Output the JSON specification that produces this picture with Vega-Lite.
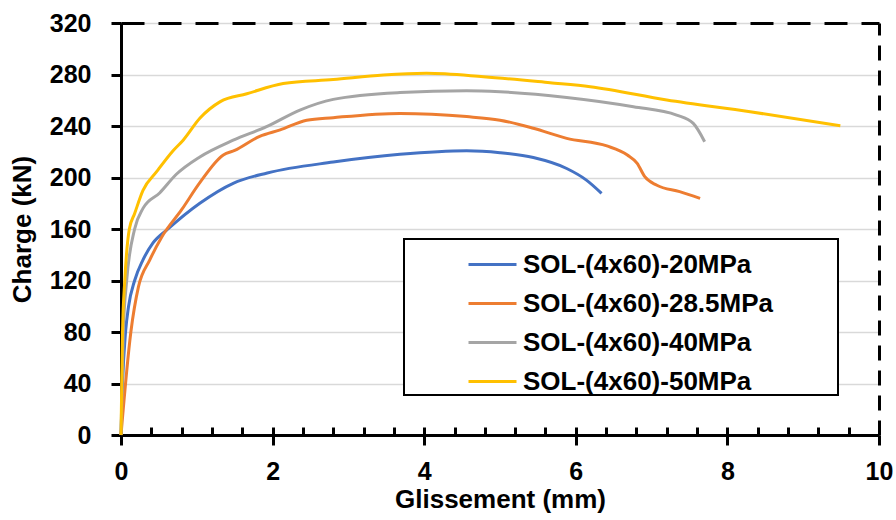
{
  "$schema": "https://vega.github.io/schema/vega-lite/v6.json",
  "width": 758,
  "height": 412,
  "autosize": {"type": "none"},
  "padding": {"left": 121, "top": 23, "right": 17, "bottom": 85},
  "background": "white",
  "config": {
    "font": "Liberation Sans",
    "view": {"stroke": null},
    "legend": {"strokeWidth": 2}
  },
  "datasets": {
    "curves": [
      {"s": "SOL-(4x60)-20MPa", "x": 0, "y": 0},
      {"s": "SOL-(4x60)-20MPa", "x": 0.02, "y": 40},
      {"s": "SOL-(4x60)-20MPa", "x": 0.06, "y": 80},
      {"s": "SOL-(4x60)-20MPa", "x": 0.1, "y": 100},
      {"s": "SOL-(4x60)-20MPa", "x": 0.18, "y": 120},
      {"s": "SOL-(4x60)-20MPa", "x": 0.29, "y": 136},
      {"s": "SOL-(4x60)-20MPa", "x": 0.42, "y": 149},
      {"s": "SOL-(4x60)-20MPa", "x": 0.62, "y": 160},
      {"s": "SOL-(4x60)-20MPa", "x": 1.04, "y": 180},
      {"s": "SOL-(4x60)-20MPa", "x": 1.48, "y": 195.5},
      {"s": "SOL-(4x60)-20MPa", "x": 1.93, "y": 203.5},
      {"s": "SOL-(4x60)-20MPa", "x": 2.8, "y": 212},
      {"s": "SOL-(4x60)-20MPa", "x": 3.68, "y": 218},
      {"s": "SOL-(4x60)-20MPa", "x": 4.56, "y": 220.8},
      {"s": "SOL-(4x60)-20MPa", "x": 5.0, "y": 219.3},
      {"s": "SOL-(4x60)-20MPa", "x": 5.44, "y": 215.5},
      {"s": "SOL-(4x60)-20MPa", "x": 5.88, "y": 207},
      {"s": "SOL-(4x60)-20MPa", "x": 6.14, "y": 198},
      {"s": "SOL-(4x60)-20MPa", "x": 6.34, "y": 187.7},

      {"s": "SOL-(4x60)-28.5MPa", "x": 0, "y": 0},
      {"s": "SOL-(4x60)-28.5MPa", "x": 0.13, "y": 80},
      {"s": "SOL-(4x60)-28.5MPa", "x": 0.23, "y": 115},
      {"s": "SOL-(4x60)-28.5MPa", "x": 0.38, "y": 136},
      {"s": "SOL-(4x60)-28.5MPa", "x": 0.54, "y": 154},
      {"s": "SOL-(4x60)-28.5MPa", "x": 0.8, "y": 175},
      {"s": "SOL-(4x60)-28.5MPa", "x": 1.04, "y": 196},
      {"s": "SOL-(4x60)-28.5MPa", "x": 1.35, "y": 217.5},
      {"s": "SOL-(4x60)-28.5MPa", "x": 1.5, "y": 221},
      {"s": "SOL-(4x60)-28.5MPa", "x": 1.83, "y": 232},
      {"s": "SOL-(4x60)-28.5MPa", "x": 2.1, "y": 237},
      {"s": "SOL-(4x60)-28.5MPa", "x": 2.45, "y": 244.5},
      {"s": "SOL-(4x60)-28.5MPa", "x": 2.8, "y": 246.5},
      {"s": "SOL-(4x60)-28.5MPa", "x": 3.68, "y": 249.8},
      {"s": "SOL-(4x60)-28.5MPa", "x": 4.56, "y": 247.3},
      {"s": "SOL-(4x60)-28.5MPa", "x": 5.0, "y": 244.5},
      {"s": "SOL-(4x60)-28.5MPa", "x": 5.44, "y": 238.2},
      {"s": "SOL-(4x60)-28.5MPa", "x": 5.88, "y": 230.4},
      {"s": "SOL-(4x60)-28.5MPa", "x": 6.41, "y": 224.5},
      {"s": "SOL-(4x60)-28.5MPa", "x": 6.68, "y": 217.5},
      {"s": "SOL-(4x60)-28.5MPa", "x": 6.81, "y": 211},
      {"s": "SOL-(4x60)-28.5MPa", "x": 6.91, "y": 200.6},
      {"s": "SOL-(4x60)-28.5MPa", "x": 7.07, "y": 194},
      {"s": "SOL-(4x60)-28.5MPa", "x": 7.37, "y": 189},
      {"s": "SOL-(4x60)-28.5MPa", "x": 7.64, "y": 183.8},

      {"s": "SOL-(4x60)-40MPa", "x": 0, "y": 0},
      {"s": "SOL-(4x60)-40MPa", "x": 0.03, "y": 80},
      {"s": "SOL-(4x60)-40MPa", "x": 0.075, "y": 120},
      {"s": "SOL-(4x60)-40MPa", "x": 0.18, "y": 160},
      {"s": "SOL-(4x60)-40MPa", "x": 0.29, "y": 176},
      {"s": "SOL-(4x60)-40MPa", "x": 0.51, "y": 188},
      {"s": "SOL-(4x60)-40MPa", "x": 0.73, "y": 202.5},
      {"s": "SOL-(4x60)-40MPa", "x": 1.04, "y": 216},
      {"s": "SOL-(4x60)-40MPa", "x": 1.48, "y": 229},
      {"s": "SOL-(4x60)-40MPa", "x": 1.92, "y": 239.5},
      {"s": "SOL-(4x60)-40MPa", "x": 2.36, "y": 252.4},
      {"s": "SOL-(4x60)-40MPa", "x": 2.8, "y": 260.7},
      {"s": "SOL-(4x60)-40MPa", "x": 3.68, "y": 266},
      {"s": "SOL-(4x60)-40MPa", "x": 4.56, "y": 267.4},
      {"s": "SOL-(4x60)-40MPa", "x": 5.0, "y": 266.6},
      {"s": "SOL-(4x60)-40MPa", "x": 5.88, "y": 262.2},
      {"s": "SOL-(4x60)-40MPa", "x": 6.76, "y": 255},
      {"s": "SOL-(4x60)-40MPa", "x": 7.33, "y": 248.5},
      {"s": "SOL-(4x60)-40MPa", "x": 7.55, "y": 242},
      {"s": "SOL-(4x60)-40MPa", "x": 7.7, "y": 227.8},

      {"s": "SOL-(4x60)-50MPa", "x": 0, "y": 0},
      {"s": "SOL-(4x60)-50MPa", "x": 0.02, "y": 80},
      {"s": "SOL-(4x60)-50MPa", "x": 0.05, "y": 120},
      {"s": "SOL-(4x60)-50MPa", "x": 0.11, "y": 160},
      {"s": "SOL-(4x60)-50MPa", "x": 0.18, "y": 172},
      {"s": "SOL-(4x60)-50MPa", "x": 0.29, "y": 190},
      {"s": "SOL-(4x60)-50MPa", "x": 0.47, "y": 204.5},
      {"s": "SOL-(4x60)-50MPa", "x": 0.69, "y": 221},
      {"s": "SOL-(4x60)-50MPa", "x": 0.82, "y": 229},
      {"s": "SOL-(4x60)-50MPa", "x": 1.04, "y": 246},
      {"s": "SOL-(4x60)-50MPa", "x": 1.31, "y": 258.9},
      {"s": "SOL-(4x60)-50MPa", "x": 1.66, "y": 265},
      {"s": "SOL-(4x60)-50MPa", "x": 2.14, "y": 273},
      {"s": "SOL-(4x60)-50MPa", "x": 2.8, "y": 276.1},
      {"s": "SOL-(4x60)-50MPa", "x": 3.46, "y": 279.6},
      {"s": "SOL-(4x60)-50MPa", "x": 4.03, "y": 280.9},
      {"s": "SOL-(4x60)-50MPa", "x": 4.78, "y": 278.3},
      {"s": "SOL-(4x60)-50MPa", "x": 5.66, "y": 273.6},
      {"s": "SOL-(4x60)-50MPa", "x": 6.19, "y": 270.5},
      {"s": "SOL-(4x60)-50MPa", "x": 7.2, "y": 260.2},
      {"s": "SOL-(4x60)-50MPa", "x": 8.3, "y": 251.1},
      {"s": "SOL-(4x60)-50MPa", "x": 9.49, "y": 240.2}
    ]
  },
  "data": {"name": "curves"},
  "layer": [
    {
      "mark": {"type": "line", "strokeWidth": 3, "interpolate": "monotone"},
      "encoding": {
        "x": {
          "field": "x", "type": "quantitative",
          "scale": {"domain": [0, 10]},
          "axis": {
            "orient": "bottom", "domain": true,
            "values": [0, 2, 4, 6, 8, 10],
            "tickSize": 10, "tickWidth": 3, "tickColor": "black",
            "domainColor": "black", "domainWidth": 3,
            "labelFontSize": 25, "labelFontWeight": "bold", "labelColor": "black",
            "labelPadding": 14, "labelFlush": false,
            "grid": false,
            "title": "Glissement (mm)", "titleFontSize": 26, "titleFontWeight": "bold",
            "titleColor": "black", "titlePadding": 2
          }
        },
        "y": {
          "field": "y", "type": "quantitative",
          "scale": {"domain": [0, 320]},
          "axis": {
            "orient": "left", "domain": true,
            "values": [0, 40, 80, 120, 160, 200, 240, 280, 320],
            "tickSize": 10, "tickWidth": 3, "tickColor": "black",
            "domainColor": "black", "domainWidth": 3,
            "labelFontSize": 25, "labelFontWeight": "bold", "labelColor": "black",
            "labelPadding": 20, "labelFlush": false,
            "grid": true, "gridColor": "#d9d9d9", "gridWidth": 1.5,
            "title": "Charge (kN)", "titleFontSize": 26, "titleFontWeight": "bold",
            "titleColor": "black", "titlePadding": 14
          }
        },
        "color": {
          "field": "s", "type": "nominal",
          "scale": {
            "domain": ["SOL-(4x60)-20MPa", "SOL-(4x60)-28.5MPa", "SOL-(4x60)-40MPa", "SOL-(4x60)-50MPa"],
            "range": ["#4472C4", "#ED7D31", "#A5A5A5", "#FFC000"]
          },
          "legend": {
            "orient": "none", "legendX": 283, "legendY": 216,
            "title": null,
            "strokeColor": "black", "fillColor": "white",
            "padding": 0,
            "symbolType": "stroke", "symbolSize": 2304, "symbolStrokeWidth": 3,
            "symbolOffset": 63,
            "labelFontSize": 26, "labelFontWeight": "bold", "labelColor": "black",
            "labelOffset": 5, "labelLimit": 500,
            "rowPadding": -6,
            "labelExpr": "datum.label + '\u2800\u00a0\u2800\u2800'"
          }
        }
      }
    },
    {
      "mark": {"type": "line", "opacity": 0},
      "encoding": {
        "x": {
          "field": "x", "type": "quantitative",
          "scale": {"domain": [0, 10]},
          "axis": {
            "orient": "bottom",
            "values": [0.4, 0.8, 1.2, 1.6, 2, 2.4, 2.8, 3.2, 3.6, 4, 4.4, 4.8, 5.2, 5.6, 6, 6.4, 6.8, 7.2, 7.6, 8, 8.4, 8.8, 9.2, 9.6],
            "tickSize": -8, "tickWidth": 3, "tickColor": "black",
            "labels": false, "domain": false, "grid": false, "title": null
          }
        },
        "y": {
          "field": "y", "type": "quantitative",
          "scale": {"domain": [0, 320]},
          "axis": {
            "orient": "left",
            "ticks": false, "labels": false, "grid": false, "title": null,
            "domain": true, "domainColor": "black", "domainWidth": 3
          }
        }
      }
    },
    {
      "mark": {"type": "line", "opacity": 0},
      "encoding": {
        "x": {
          "field": "x", "type": "quantitative",
          "scale": {"domain": [0, 10]},
          "axis": {
            "orient": "top",
            "ticks": false, "labels": false, "grid": false, "title": null,
            "domainColor": "black", "domainWidth": 3, "domainDash": [23, 14]
          }
        },
        "y": {
          "field": "y", "type": "quantitative",
          "scale": {"domain": [0, 320]},
          "axis": {
            "orient": "right",
            "ticks": false, "labels": false, "grid": false, "title": null,
            "domainColor": "black", "domainWidth": 3, "domainDash": [15, 10]
          }
        }
      }
    }
  ],
  "resolve": {"axis": {"x": "independent", "y": "independent"}}
}
